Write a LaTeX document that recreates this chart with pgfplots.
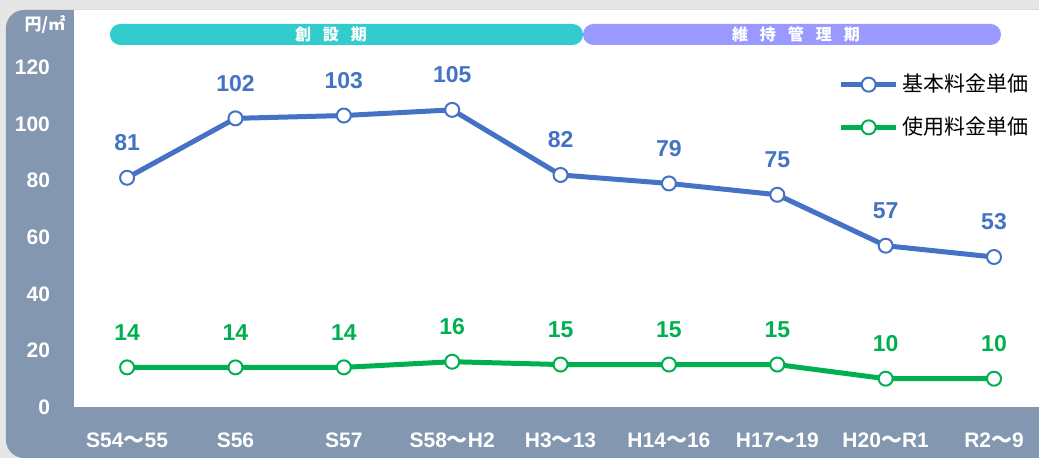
\documentclass[border=0pt]{standalone}
\usepackage{pgfplots}
\pgfplotsset{compat=1.18}
\usepackage{fontspec}
\setmainfont{Liberation Sans}
\newfontfamily\cjk{Noto Sans CJK JP}
\definecolor{bgray}{HTML}{E6E6E6}
\definecolor{panel}{HTML}{8497B0}
\definecolor{cblue}{HTML}{4472C4}
\definecolor{cgreen}{HTML}{00B050}
\definecolor{teal}{HTML}{33CCCC}
\definecolor{lav}{HTML}{9999FF}
\newcommand\px[2]{({((#1)-74)*0.5pt},{(407-(#2))*0.5pt})}
\begin{document}
\begin{tikzpicture}
% background
\fill[bgray] \px{0}{0} rectangle \px{1039}{458};
\fill[panel, rounded corners=9pt] \px{6}{10} -- \px{6}{458} -- \px{1060}{458} -- \px{1060}{10} -- cycle;
\begin{axis}[
  scale only axis,
  width=482.5pt, height=198.5pt,
  xmin=-0.49, xmax=8.415,
  ymin=0, ymax=140.3,
  axis background/.style={fill=white},
  axis line style={draw=none},
  major tick length=0pt,
  xtick={0,...,8},
  xticklabels={S54{\cjk ～}55,S56,S57,S58{\cjk ～}H2,H3{\cjk ～}13,H14{\cjk ～}16,H17{\cjk ～}19,H20{\cjk ～}R1,R2{\cjk ～}9},
  xticklabel style={font=\bfseries\fontsize{10.5}{12}\selectfont, text=white, anchor=center, yshift=-16.5pt+0pt},
  ytick={0,20,...,120},
  yticklabel style={font=\bfseries\fontsize{10.5}{12}\selectfont, text=white, anchor=east, xshift=-8.5pt},
  /pgf/number format/assume math mode=true,
  clip=false,
  legend style={at={(0.792,0.849)}, anchor=north west, draw=none, fill=none,
    font=\cjk\fontsize{10.5}{12}\selectfont, row sep=7pt, inner sep=0pt},
  legend cell align=left,
  legend image code/.code={\draw[mark repeat=2,mark phase=2,#1] plot coordinates {(0pt,0pt) (13.75pt,0pt) (27.5pt,0pt)};},
  nodes near coords,
  every node near coord/.append style={font=\bfseries\fontsize{11.5}{13}\selectfont, anchor=center, yshift=17.5pt},
]
\addplot[cblue, line width=2.5pt, mark=*, mark size=3.5pt,
  mark options={fill=white, draw=cblue, line width=1pt}, nodes near coords style={text=cblue}]
  coordinates {(0,81) (1,102) (2,103) (3,105) (4,82) (5,79) (6,75) (7,57) (8,53)};
\addlegendentry{基本料金単価}
\addplot[cgreen, line width=2.5pt, mark=*, mark size=3.5pt,
  mark options={fill=white, draw=cgreen, line width=1pt}, nodes near coords style={text=cgreen}]
  coordinates {(0,14) (1,14) (2,14) (3,16) (4,15) (5,15) (6,15) (7,10) (8,10)};
\addlegendentry{使用料金単価}
\end{axis}
% phase bars
\fill[lav, rounded corners=5.2pt] \px{583}{24} rectangle \px{1001}{45};
\fill[teal, rounded corners=5.2pt] \px{110}{24} rectangle \px{583}{45};
\node[text=white, font=\cjk\bfseries\fontsize{8}{9}\selectfont] at \px{331}{34.5} {創\hspace{6pt}設\hspace{6pt}期};
\node[text=white, font=\cjk\bfseries\fontsize{8}{9}\selectfont] at \px{796}{34.5} {維\hspace{6pt}持\hspace{6pt}管\hspace{6pt}理\hspace{6pt}期};
\node[text=white, font=\cjk\bfseries\fontsize{8.5}{9}\selectfont] at \px{45}{25} {円/㎡};
\pgfresetboundingbox
\path \px{0}{0} rectangle \px{1039}{458};
\end{tikzpicture}
\end{document}
